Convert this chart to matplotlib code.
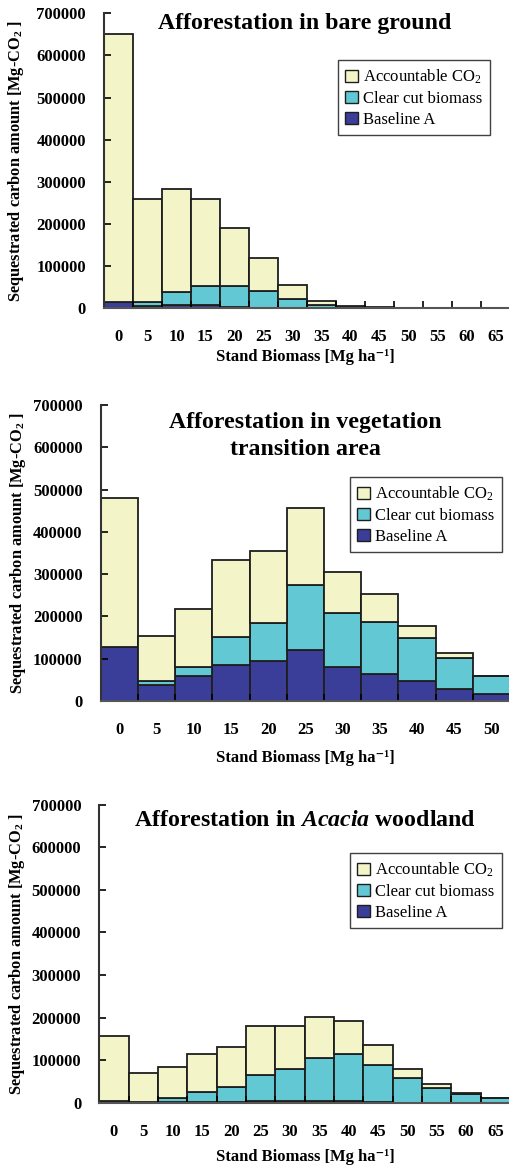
import matplotlib
matplotlib.use("Agg")
import matplotlib.pyplot as plt
from matplotlib.patches import Patch

plt.rcParams["font.family"] = ["Liberation Serif", "DejaVu Serif"]
plt.rcParams["mathtext.fontset"] = "custom"
plt.rcParams["mathtext.rm"] = "Liberation Serif"
plt.rcParams["mathtext.it"] = "Liberation Serif:italic"
plt.rcParams["mathtext.bf"] = "Liberation Serif:bold"
plt.rcParams["mathtext.bfit"] = "Liberation Serif:italic:bold"

W, H = 510, 1167

# stand biomass classes
bare_labels = ["0", "5", "10", "15", "20", "25", "30", "35", "40", "45", "50", "55", "60", "65"]
trans_labels = ["0", "5", "10", "15", "20", "25", "30", "35", "40", "45", "50"]
acacia_labels = ["0", "5", "10", "15", "20", "25", "30", "35", "40", "45", "50", "55", "60", "65"]

# stacked segments [Mg-CO2]
bare_baseline = [15000, 6000, 7000, 7000, 4000, 1000, 0, 0, 0, 0, 0, 0, 0, 0]
bare_clearcut = [0, 9000, 31000, 47000, 50000, 39000, 22000, 9000, 2000, 1000, 0, 0, 0, 0]
bare_accountable = [635000, 244000, 245000, 205000, 137000, 79000, 33000, 9000, 3000, 1000, 0, 0, 0, 0]

trans_baseline = [128000, 39000, 58000, 86000, 94000, 121000, 80000, 65000, 47000, 28000, 17000]
trans_clearcut = [0, 8000, 23000, 65000, 91000, 153000, 129000, 123000, 102000, 74000, 43000]
trans_accountable = [353000, 107000, 137000, 182000, 170000, 183000, 97000, 66000, 28000, 11000, 0]

acacia_baseline = [3000, 1000, 1000, 1000, 1000, 4000, 4000, 4000, 4000, 1000, 0, 0, 0, 0]
acacia_clearcut = [0, 0, 10000, 23000, 36000, 62000, 74000, 101000, 111000, 87000, 58000, 34000, 20000, 12000]
acacia_accountable = [154000, 68000, 74000, 91000, 95000, 115000, 103000, 96000, 78000, 48000, 21000, 10000, 2000, 0]

YELLOW = "#f3f5c8"
CYAN = "#62c8d4"
BLUE = "#3a3e98"
EDGE = "#1e1e1e"


def px_box(left, top, right, bottom):
    return [left / W, 1 - bottom / H, (right - left) / W, (bottom - top) / H]


def draw_panel(fig, box, labels, baseline, clearcut, accountable, title, title_y,
               legend_xy, xlabel_y, ylabel_x):
    left, top, right, bottom = box
    ax = fig.add_axes(px_box(left, top, right, bottom))
    x = list(range(len(labels)))
    kw = dict(width=1.0, edgecolor=EDGE, linewidth=1.3)
    ax.bar(x, baseline, color=BLUE, **kw)
    ax.bar(x, clearcut, bottom=baseline, color=CYAN, **kw)
    base2 = [a + b for a, b in zip(baseline, clearcut)]
    ax.bar(x, accountable, bottom=base2, color=YELLOW, **kw)

    spacing = (right - left) / (len(labels) - 0.2)
    ax.set_xlim(-0.5, -0.5 + (right - left) / spacing)
    ax.set_ylim(0, 700000)
    ax.set_yticks(range(0, 700001, 100000))
    ax.set_yticklabels([str(v) for v in range(0, 700001, 100000)])
    ax.set_xticks(x)
    ax.set_xticklabels(labels)
    ax.set_xticks([i + 0.5 for i in x], minor=True)
    ax.tick_params(axis="x", which="major", length=0, pad=15)
    ax.tick_params(axis="x", which="minor", length=5, direction="in", width=1.2)
    ax.tick_params(axis="y", length=5, direction="in", width=1.2, pad=13)
    for lab in ax.get_xticklabels() + ax.get_yticklabels():
        lab.set_fontweight("bold")
        lab.set_fontsize(12)

    for s in ("top", "right"):
        ax.spines[s].set_visible(False)
    ax.spines["left"].set_linewidth(1.5)
    ax.spines["left"].set_color("#333333")
    ax.spines["bottom"].set_linewidth(1.5)
    ax.spines["bottom"].set_color("#555555")

    ax.set_ylabel(r"Sequestrated carbon amount [Mg-CO$_{\mathbf{2}}$ ]",
                  fontsize=11.8, fontweight="bold")
    ax.yaxis.set_label_coords((ylabel_x - left) / (right - left), 0.5)
    ax.yaxis.label.set_va("center")
    ax.set_xlabel("Stand Biomass [Mg ha\u207b\u00b9]", fontsize=12, fontweight="bold")
    ax.xaxis.set_label_coords((305 - left) / (right - left), (bottom - xlabel_y) / (bottom - top))
    ax.xaxis.label.set_va("center")

    fig.text(305 / W, 1 - title_y / H, title, ha="center", va="center",
             fontsize=17.2, fontweight="bold", linespacing=1.35)

    handles = [Patch(facecolor=YELLOW, edgecolor=EDGE, label=r"Accountable CO$_2$"),
               Patch(facecolor=CYAN, edgecolor=EDGE, label="Clear cut biomass"),
               Patch(facecolor=BLUE, edgecolor=EDGE, label="Baseline A")]
    leg = ax.legend(handles=handles, loc="upper left",
                    bbox_to_anchor=(legend_xy[0] / W, 1 - legend_xy[1] / H),
                    bbox_transform=fig.transFigure, borderaxespad=0,
                    fontsize=12, frameon=True, fancybox=False,
                    handlelength=0.75, handleheight=0.75, handletextpad=0.3,
                    labelspacing=0.3, borderpad=0.45)
    leg.get_frame().set_edgecolor("#111111")
    leg.get_frame().set_linewidth(1.0)
    return ax


fig = plt.figure(figsize=(W / 100, H / 100), dpi=100)

draw_panel(fig, (104, 13.3, 510, 308.3), bare_labels, bare_baseline, bare_clearcut,
           bare_accountable, "Afforestation in bare ground", 23,
           (338, 60), 357, 16)
draw_panel(fig, (100.7, 405, 510, 701), trans_labels, trans_baseline, trans_clearcut,
           trans_accountable, "Afforestation in vegetation\ntransition area", 436,
           (350, 477), 758, 18.5)
draw_panel(fig, (99.3, 804.7, 510, 1102.7), acacia_labels, acacia_baseline, acacia_clearcut,
           acacia_accountable, r"Afforestation in $\mathbfit{Acacia}$ woodland", 821,
           (350, 853), 1157, 17)

fig.savefig("out.png", dpi=100)
